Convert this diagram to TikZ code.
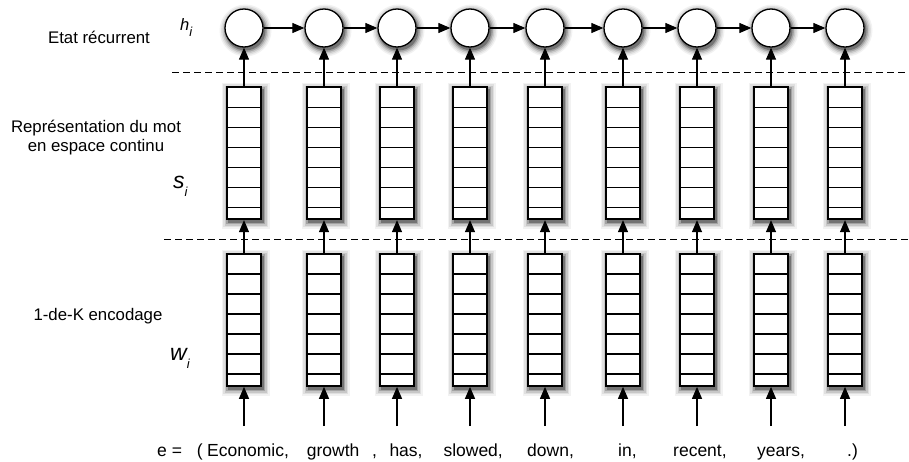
\documentclass[tikz,border=0pt]{standalone}
\usepackage{fontspec}
\setmainfont{Liberation Sans}
\usetikzlibrary{arrows.meta}
\begin{document}
\begin{tikzpicture}[x=1pt,y=-1pt,
  rnn/.style={circle,draw,line width=1.3pt,fill=white,minimum size=38pt,inner sep=0pt},
  vec/.style={rectangle,draw,line width=1.7pt,fill=white,minimum width=34pt,minimum height=132pt,inner sep=0pt,
    path picture={\foreach \k in {1,...,6}
      \draw[line width=1.3pt] ([yshift=-\k*20pt]path picture bounding box.north west) -- ([yshift=-\k*20pt]path picture bounding box.north east);}},
  arr/.style={-{Triangle[length=12pt,width=10pt]},line width=1.2pt},
  sep/.style={dash pattern=on 7pt off 4pt,line width=1.2pt},
  lab/.style={font=\fontsize{16.8}{19.5}\selectfont,align=center,inner sep=0pt},
  word/.style={font=\fontsize{17.5}{20}\selectfont,anchor=base west,inner sep=0pt},
  var/.style={anchor=base west,inner sep=0pt}
]
\useasboundingbox (0,0) rectangle (909,461);

% separators
\coordinate (d1a) at (172,72.7);
\coordinate (d1b) at (909,72.7);
\coordinate (d2a) at (164,239.5);
\coordinate (d2b) at (909,239.5);
\draw[sep] (d1a) -- (d1b);
\draw[sep] (d2a) -- (d2b);

% soft shadows, offset right and down
\foreach \x in {244,324,397,470,545,623,697,771,845} {
  \foreach \d/\c in {7/5,5.5/12,4/22,2.5/36,1/55} {
    \fill[black!\c] (\x+1.5,30.5) circle ({19+\d});
    \fill[black!\c] (\x-15.5-\d,89.8-\d) rectangle (\x+18.5+\d,221.8+\d);
    \fill[black!\c] (\x-15.5-\d,256.5-\d) rectangle (\x+18.5+\d,388.5+\d);
  }
}

% columns
\foreach \i/\x in {1/244,2/324,3/397,4/470,5/545,6/623,7/697,8/771,9/845} {
  \node[rnn] (h\i) at (\x,28) {};
  \node[vec] (s\i) at (\x,153.3) {};
  \node[vec] (w\i) at (\x,320) {};
  \coordinate (e\i) at (\x,426);
  \draw[arr] (s\i.north) -- (h\i.south);
  \draw[arr] (w\i.north) -- (s\i.south);
  \draw[arr] (e\i) -- (w\i.south);
}
\foreach \i [evaluate=\i as \j using int(\i+1)] in {1,...,8}
  \draw[arr] (h\i.east) -- (h\j.west);

% left labels
\node[lab] (etat) at (99,37) {Etat récurrent};
\node[lab] (repr) at (96,137.5) {Représentation du mot\\en espace continu};
\node[lab] (enc) at (98,316) {1-de-K encodage};
\node[var] (hl) at (180,30) {\fontsize{16.5}{18}\selectfont\itshape h\raisebox{-6.7pt}{\fontsize{13}{14}\selectfont i}};
\node[var] (sl) at (173,188.3) {\fontsize{23}{25}\selectfont\itshape s\raisebox{-8pt}{\fontsize{13}{14}\selectfont i}};
\node[var] (wl) at (170,360) {\fontsize{23}{25}\selectfont\itshape w\raisebox{-8pt}{\fontsize{13}{14}\selectfont i}};

% sentence
\node[word] (t0) at (157,456.5) {e =};
\node[word] (t1) at (196.7,456.5) {(};
\node[word] (t2) at (207,456.5) {Economic,};
\node[word] (t3) at (306.7,456.5) {growth};
\node[word] (t4) at (372,456.5) {,};
\node[word] (t5) at (389.3,456.5) {has,};
\node[word] (t6) at (443.3,456.5) {slowed,};
\node[word] (t7) at (527,456.5) {down,};
\node[word] (t8) at (618,456.5) {in,};
\node[word] (t9) at (673,456.5) {recent,};
\node[word] (t10) at (757,456.5) {years,};
\node[word] (t11) at (847,456.5) {.)};
\end{tikzpicture}
\end{document}
